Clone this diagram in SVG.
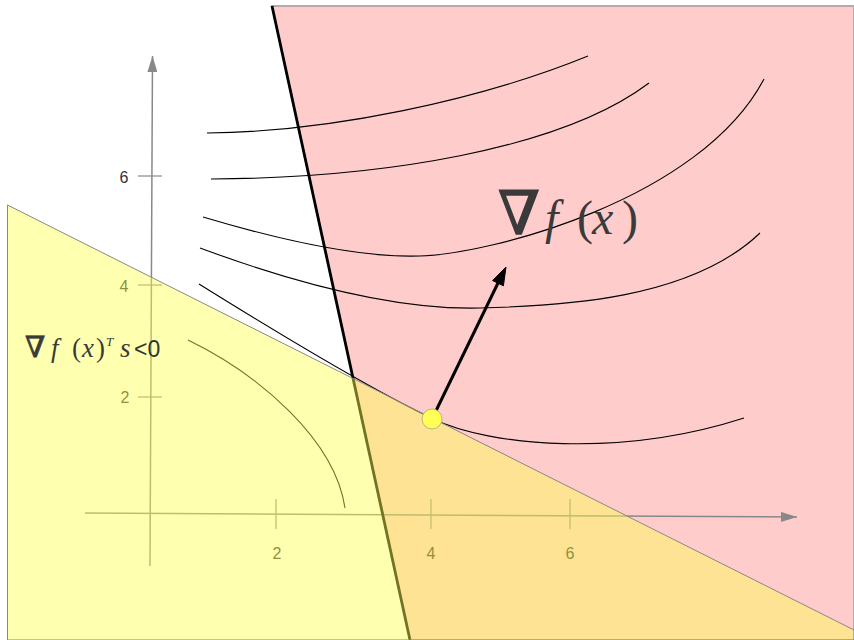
<svg xmlns="http://www.w3.org/2000/svg" width="854" height="640" viewBox="0 0 854 640">
<style>
.axis{stroke:#888;stroke-width:1.5;fill:none}
.tick{stroke:#888;stroke-width:1.2}
.contour{stroke:#000;stroke-width:1.1;fill:none}
.tl{font-family:"Liberation Sans",Arial,sans-serif;font-size:16px;fill:#333;text-anchor:middle}
.math{font-family:"Liberation Serif","DejaVu Serif",serif;fill:#3a3a3a}
.nabla{font-family:"DejaVu Serif",serif;font-style:normal;stroke:#3a3a3a}
</style>
<defs>
<marker id="axhead" markerWidth="16" markerHeight="10" refX="16" refY="5" orient="auto" markerUnits="userSpaceOnUse">
<path d="M0,0 L16,5 L0,10 Z" fill="#888"/>
</marker>
</defs>
<rect width="854" height="640" fill="#fff"/>
<g id="feasible-region">
<polygon points="272,6 854,6 854,640 410,640" fill="#ffcccc" stroke="#b8a8a8" stroke-width="2"/>
</g>
<g id="axes">
<line class="axis" x1="85" y1="513" x2="797" y2="517" marker-end="url(#axhead)"/>
<line class="axis" x1="150" y1="566" x2="152.5" y2="56" marker-end="url(#axhead)"/>
<line class="tick" x1="276" y1="499" x2="276" y2="529"/>
<line class="tick" x1="431" y1="499" x2="431" y2="529"/>
<line class="tick" x1="570" y1="499" x2="570" y2="529"/>
<line class="tick" x1="138" y1="176" x2="162" y2="176"/>
<line class="tick" x1="138" y1="285" x2="162" y2="285"/>
<line class="tick" x1="138" y1="397" x2="162" y2="397"/>
<text class="tl" x="124" y="183">6</text>
<text class="tl" x="124" y="292">4</text>
<text class="tl" x="125" y="403">2</text>
<text class="tl" x="277" y="559">2</text>
<text class="tl" x="431" y="559">4</text>
<text class="tl" x="570" y="559">6</text>
</g>
<g id="contours">
<path class="contour" d="M207,133 C330,132 480,100 588,56"/>
<path class="contour" d="M211,179 C380,178 560,150 649,83"/>
<path class="contour" d="M203,217 C280,240 360,258 420,256 C490,254 700,200 764,79"/>
<path class="contour" d="M200,248 C300,285 400,310 480,308 C560,306 690,300 760,233"/>
<path class="contour" d="M199,284 C260,322 360,384 433,419 C490,446 620,458 744,418"/>
<path class="contour" d="M188,340 C260,375 335,440 345,508"/>
</g>
<g id="constraint-line">
<line x1="272" y1="6" x2="410" y2="640" stroke="#000" stroke-width="2.8"/>
</g>
<g id="descent-halfplane">
<polygon points="7.5,205 854,630 854,640 7.5,640" fill="#ffff50" fill-opacity="0.45" stroke="#888" stroke-width="1"/>
</g>
<g id="connectors">
<line x1="432" y1="419" x2="498" y2="283" stroke="#000" stroke-width="3"/>
<polygon points="506,267 503.4,285.8 492.6,280.6" fill="#000" stroke="#000" stroke-width="1"/>
</g>
<g id="point-x">
<circle cx="432" cy="419" r="10" fill="#ffff55" stroke="#b8b880" stroke-width="1"/>
</g>
<g id="label-gradient">
<text class="math" y="234" font-size="48"><tspan x="498" class="nabla" font-size="60" stroke-width="1.5">∇</tspan><tspan x="545" font-style="italic">f</tspan><tspan x="577">(</tspan><tspan x="592" font-style="italic">x</tspan><tspan x="622">)</tspan></text>
</g>
<g id="label-descent">
<text class="math" y="357" font-size="27"><tspan x="25" class="nabla" font-size="29" stroke-width="0.8">∇</tspan><tspan x="51" font-style="italic">f</tspan><tspan x="72">(</tspan><tspan x="82" font-style="italic">x</tspan><tspan x="96">)</tspan><tspan x="106" y="346" font-size="13" font-style="italic">T</tspan><tspan x="120" y="357" font-style="italic">s</tspan></text>
<text x="134" y="357" font-family="'Liberation Sans',Arial,sans-serif" font-size="23" fill="#333">&lt;0</text>
</g>
</svg>
